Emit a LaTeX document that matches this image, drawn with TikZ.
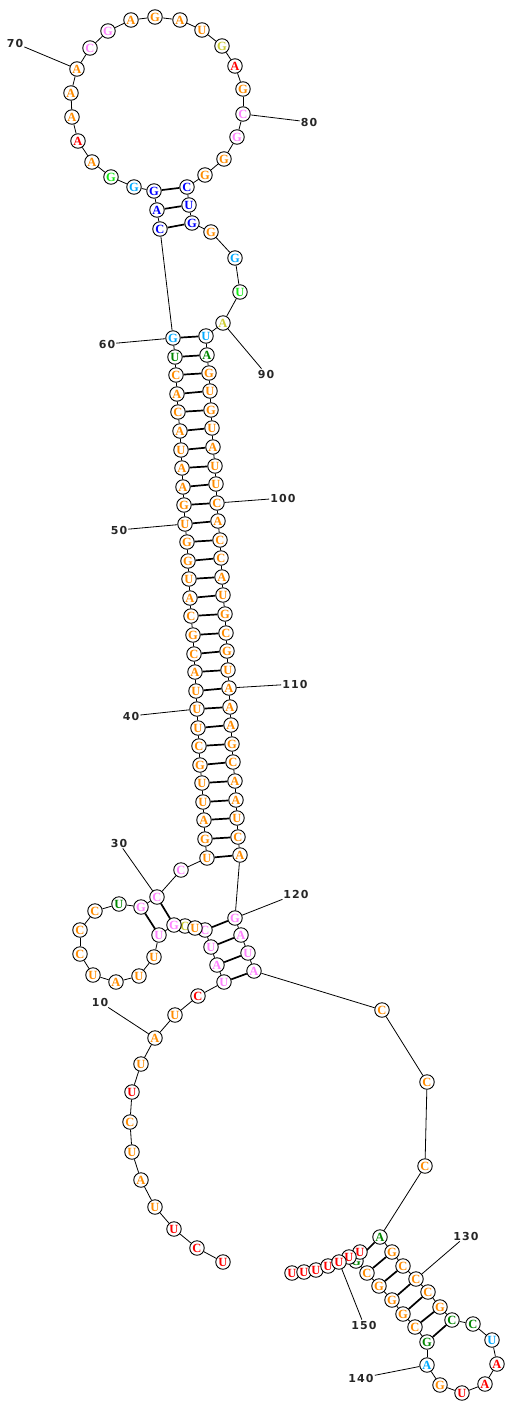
\documentclass[tikz,border=0pt]{standalone}
\usepackage{fontspec}
\usepackage{tikz}
\usetikzlibrary{backgrounds}
\newfontfamily\ntfont{Liberation Serif}
\newfontfamily\lblfont[LetterSpace=10]{DejaVu Sans}
\definecolor{orng}{RGB}{255,140,0}
\definecolor{pink}{RGB}{255,130,255}
\definecolor{redd}{RGB}{255,0,0}
\definecolor{blu}{RGB}{0,0,255}
\definecolor{sky}{RGB}{0,170,255}
\definecolor{lime}{RGB}{20,235,20}
\definecolor{dgrn}{RGB}{0,135,0}
\definecolor{ylw}{RGB}{205,205,50}

\begin{document}
\begin{tikzpicture}[
  x=1pt, y=-1pt,
  nt/.style={draw, circle, fill=white, inner sep=0pt, minimum size=14.5pt, line width=0.9pt, font=\ntfont\bfseries\fontsize{12.5}{12.5}\selectfont},
  bb/.style={line width=0.8pt},
  bp/.style={line width=1.7pt},
  tick/.style={line width=0.8pt},
  lbl/.style={inner sep=1pt, text=black!85, font=\lblfont\bfseries\fontsize{11}{13}\selectfont}
]
\useasboundingbox (0,0) rectangle (504,1401);
% 5' tail and first junction
\foreach \id/\x/\y/\ch/\col in {
  1/223/1262/U/redd, 2/197/1248/C/redd, 3/174/1229/U/redd, 4/155/1207/U/orng, 5/141/1180/A/orng,
  6/132/1152/U/orng, 7/130/1122/C/orng, 8/132/1092/U/redd, 9/141/1064/U/orng, 10/155/1038/A/orng,
  11/175/1015/U/orng, 12/198/996/C/redd, 13/224/982/U/pink, 14/217/965/A/pink, 15/211/947/U/pink,
  16/205/930/C/pink, 18/185/926/C/ylw, 17/195/928/U/orng, 19/174/925/G/pink}
  \node[nt, text=\col] (n\id) at (\x,\y) {\ch};
% hairpin loop by the junction
\foreach \id/\x/\y/\ch/\col in {
  20/159/935/U/pink, 21/154/957/U/orng, 22/139/976/U/orng, 23/116/982/A/orng, 24/93/975/U/orng,
  25/80/954/C/orng, 26/80/930/C/orng, 27/95/911/C/orng, 28/119/904/U/dgrn, 29/141/907/G/pink,
  30/157/897/C/pink, 31/181/870/C/pink}
  \node[nt, text=\col] (n\id) at (\x,\y) {\ch};
% long stem, left strand
\foreach \id/\x/\y/\ch/\col in {
  32/207/858/U/orng, 33/205/839/G/orng, 34/204/820/A/orng, 35/203/802/U/orng, 36/202/783/U/orng,
  37/200/765/G/orng, 38/199/746/C/orng, 39/198/728/U/orng, 40/197/709/U/orng, 41/196/691/U/orng,
  42/195/672/A/orng, 43/194/654/C/orng, 44/193/635/G/orng, 45/191/616/C/orng, 46/190/598/A/orng,
  47/189/579/U/orng, 48/188/561/G/orng, 49/187/542/G/orng, 50/185/524/U/orng, 51/184/505/G/orng,
  52/183/487/A/orng, 53/182/468/A/orng, 54/181/450/U/orng, 55/180/431/A/orng, 56/178/412/C/orng,
  57/177/394/A/orng, 58/176/375/C/orng, 59/175/357/U/dgrn, 60/173/338/G/sky}
  \node[nt, text=\col] (n\id) at (\x,\y) {\ch};
% top ring
\foreach \id/\x/\y/\ch/\col in {
  61/160/229/C/blu, 62/157/210/A/blu, 63/154/191/G/blu, 64/134/187/G/sky, 65/111/177/G/lime,
  66/92/162/A/orng, 67/78/141/A/redd, 68/72/117/A/orng, 69/71/93/A/orng, 70/77/69/A/orng,
  71/90/48/C/pink, 72/108/31/G/pink, 73/131/20/A/orng, 74/155/17/G/orng, 75/180/20/A/orng,
  76/202/30/U/orng, 77/222/46/G/ylw, 78/235/66/A/redd, 79/243/89/G/orng, 80/243/114/C/pink,
  81/237/137/G/pink, 82/224/159/G/orng, 83/205/175/G/orng, 84/187/187/C/blu, 85/189/205/U/blu,
  86/192/223/G/blu, 87/211/232/G/orng, 88/235/258/G/sky, 89/240/292/U/lime, 90/223/323/A/ylw}
  \node[nt, text=\col] (n\id) at (\x,\y) {\ch};
% long stem, right strand
\foreach \id/\x/\y/\ch/\col in {
  91/206/336/U/sky, 92/207/355/A/dgrn, 93/209/373/G/orng, 94/210/391/U/orng, 95/211/410/G/orng,
  96/212/428/U/orng, 97/213/447/A/orng, 98/215/466/U/orng, 99/216/484/U/orng, 100/217/503/C/orng,
  101/218/521/A/orng, 102/220/540/C/orng, 103/221/558/C/orng, 104/222/577/A/orng, 105/223/595/U/orng,
  106/225/614/G/orng, 107/226/633/C/orng, 108/227/651/G/orng, 109/228/670/U/orng, 110/229/688/A/orng,
  111/230/707/A/orng, 112/231/725/A/orng, 113/232/744/G/orng, 114/233/762/C/orng, 115/235/781/A/orng,
  116/236/800/A/orng, 117/237/818/U/orng, 118/238/837/C/orng, 119/240/855/A/orng}
  \node[nt, text=\col] (n\id) at (\x,\y) {\ch};
% junction right side and long link
\foreach \id/\x/\y/\ch/\col in {
  120/235/918/G/pink, 121/241/935/A/pink, 122/248/953/U/pink, 123/254/971/A/pink,
  124/382/1010/C/orng, 125/427/1082/C/orng, 126/425/1166/C/orng}
  \node[nt, text=\col] (n\id) at (\x,\y) {\ch};
% 3' hairpin
\foreach \id/\x/\y/\ch/\col in {
  127/380/1237/A/dgrn, 128/392/1252/G/orng, 129/403/1266/C/orng, 130/416/1279/C/orng, 131/428/1292/C/orng,
  132/440/1307/G/orng, 133/452/1320/C/dgrn, 134/473/1324/C/dgrn, 135/492/1340/U/sky, 136/497/1364/A/redd,
  137/485/1384/A/redd, 138/462/1393/U/redd, 139/440/1385/G/orng, 140/427/1365/A/sky, 141/427/1342/G/dgrn,
  142/415/1327/C/orng, 143/403/1314/G/orng, 144/392/1300/G/orng, 145/379/1286/G/orng, 146/367/1273/C/orng,
  147/356/1261/G/dgrn, 148/360/1252/U/redd, 149/349/1257/U/redd}
  \node[nt, text=\col] (n\id) at (\x,\y) {\ch};
% 3' end
\foreach \id/\x/\y in {154/292/1273, 153/304/1272, 152/316/1270, 151/328/1266, 150/339/1262}
  \node[nt, text=redd] (n\id) at (\x,\y) {U};

% position labels
\node[lbl] (l10) at (100,1002) {10};
\node[lbl] (l30) at (119,843) {30};
\node[lbl] (l40) at (131,716) {40};
\node[lbl] (l50) at (119,530) {50};
\node[lbl] (l60) at (107,344) {60};
\node[lbl] (l70) at (15,43) {70};
\node[lbl] (l80) at (309,122) {80};
\node[lbl] (l90) at (266,374) {90};
\node[lbl] (l100) at (283,498) {100};
\node[lbl] (l110) at (295,684) {110};
\node[lbl] (l120) at (296,894) {120};
\node[lbl] (l130) at (466,1236) {130};
\node[lbl] (l140) at (361,1378) {140};
\node[lbl] (l150) at (364,1325) {150};

\begin{scope}[on background layer]
% backbone
\foreach \a [evaluate=\a as \b using int(\a+1)] in {1,...,153}
  \draw[bb] (n\a) -- (n\b);
% base pairs
\foreach \a [evaluate=\a as \b using int(136-\a)] in {13,...,16}
  \draw[bp] (n\a) -- (n\b);
\foreach \a/\b in {19/30, 20/29, 61/86, 62/85, 63/84}
  \draw[bp] (n\a) -- (n\b);
\foreach \a [evaluate=\a as \b using int(151-\a)] in {32,...,60}
  \draw[bp] (n\a) -- (n\b);
\foreach \a [evaluate=\a as \b using int(274-\a)] in {127,...,133}
  \draw[bp] (n\a) -- (n\b);
% label ticks
\foreach \p in {10,30,40,50,60,70,80,90,100,110,120,130,140,150}
  \draw[tick] (n\p) -- (l\p);
\end{scope}
\end{tikzpicture}
\end{document}
